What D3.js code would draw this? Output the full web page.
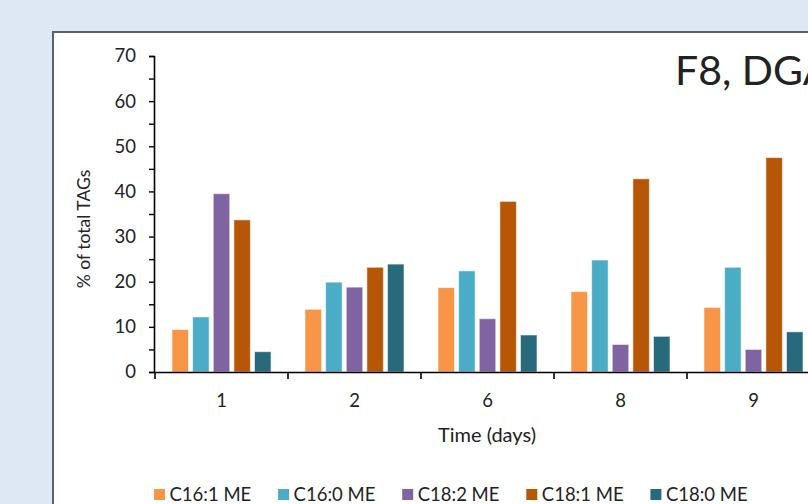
<!DOCTYPE html>
<html>
<head>
<meta charset="utf-8">
<script src="https://cdn.jsdelivr.net/npm/d3@7"></script>
<style>
  html, body { margin: 0; padding: 0; background: #dde8f4; overflow: hidden; }
  svg { display: block; }
  text { font-family: Lato, "Open Sans", sans-serif; fill: #222; }
</style>
</head>
<body>
<svg id="chart" width="808" height="504"></svg>
<script>
const categories = ["1", "2", "6", "8", "9"];
const seriesNames = ["C16:1 ME", "C16:0 ME", "C18:2 ME", "C18:1 ME", "C18:0 ME"];
const c161 = [9.4, 13.9, 18.7, 17.8, 14.3];
const c160 = [12.2, 19.9, 22.4, 24.8, 23.2];
const c182 = [39.5, 18.8, 11.8, 6.1, 5.0];
const c181 = [33.7, 23.2, 37.8, 42.8, 47.5];
const c180 = [4.5, 23.9, 8.2, 7.9, 8.9];
const yTicks = [0, 10, 20, 30, 40, 50, 60, 70];
const colors = ["#f79646", "#4bacc6", "#8064a2", "#b65708", "#276a7c"];
const titleText = "F8, DGA";
const xTitle = "Time (days)";
const yTitle = "% of total TAGs";

const seriesValues = [c161, c160, c182, c181, c180];

const svg = d3.select("#chart");

// Chart frame (extends beyond the visible window)
svg.append("rect")
  .attr("x", 53).attr("y", 32)
  .attr("width", 900).attr("height", 600)
  .attr("fill", "#fff")
  .attr("stroke", "#5b6068").attr("stroke-width", 2);

const y = d3.scaleLinear().domain([0, 70]).range([372, 56]);
const x = d3.scaleBand().domain(categories).range([155, 820]);
const x1 = d3.scaleBand().domain(seriesNames)
  .range([17, x.bandwidth() - 17]).paddingInner(0.2);
const color = d3.scaleOrdinal().domain(seriesNames).range(colors);

// Bars
const groups = svg.append("g").selectAll("g")
  .data(categories)
  .join("g")
  .attr("transform", d => `translate(${x(d)},0)`);

groups.selectAll("rect")
  .data((c, i) => seriesNames.map((s, k) => ({ s, v: seriesValues[k][i] })))
  .join("rect")
  .attr("x", d => x1(d.s))
  .attr("width", x1.bandwidth())
  .attr("y", d => y(d.v))
  .attr("height", d => y(0) - y(d.v))
  .attr("fill", d => color(d.s))
  .attr("stroke", "rgba(255,255,255,0.55)")
  .attr("stroke-width", 1);

// Y axis
const yMinor = d3.range(0, 71, 5);
const yAxisG = svg.append("g")
  .attr("transform", "translate(154,0)")
  .call(d3.axisLeft(y).tickValues(yMinor).tickSize(5).tickPadding(13)
    .tickFormat(d => yTicks.includes(d) ? d : ""));
yAxisG.select(".domain").attr("stroke", "#000").attr("stroke-width", 1.6);
yAxisG.selectAll(".tick line").attr("stroke", "#000").attr("stroke-width", 1.4);
yAxisG.selectAll(".tick text")
  .style("font-family", "Lato, sans-serif").style("font-size", "18.5px").attr("fill", "#222");

// X axis (labels at category centers, ticks at boundaries)
const xAxisG = svg.append("g")
  .attr("transform", "translate(0,372)")
  .call(d3.axisBottom(x).tickSize(0).tickPadding(22));
xAxisG.select(".domain").attr("stroke", "#000").attr("stroke-width", 1.6);
xAxisG.selectAll(".tick text")
  .style("font-family", "Lato, sans-serif").style("font-size", "18.5px").attr("fill", "#222");

const boundaries = categories.map(c => x(c)).concat([x(categories[categories.length - 1]) + x.step()]);
xAxisG.selectAll(".bnd")
  .data(boundaries)
  .join("line")
  .attr("class", "bnd")
  .attr("x1", d => d).attr("x2", d => d)
  .attr("y1", 0).attr("y2", 7)
  .attr("stroke", "#000").attr("stroke-width", 1.6);

// Axis titles
svg.append("text")
  .attr("x", 487).attr("y", 442)
  .attr("text-anchor", "middle")
  .style("font-size", "20px")
  .text(xTitle);

svg.append("text")
  .attr("transform", "translate(90,229) rotate(-90)")
  .attr("text-anchor", "middle")
  .style("font-size", "17.5px")
  .text(yTitle);

// Title (cut at the right edge, as in the reference)
svg.append("text")
  .attr("x", 675).attr("y", 85)
  .style("font-size", "41px")
  .attr("fill", "#000")
  .text(titleText);

// Legend
const legend = svg.append("g").selectAll("g")
  .data(seriesNames)
  .join("g")
  .attr("transform", (d, i) => `translate(${154 + i * 124.1},0)`);
legend.append("rect")
  .attr("x", 0).attr("y", 489)
  .attr("width", 11).attr("height", 11)
  .attr("fill", d => color(d));
legend.append("text")
  .attr("x", 15.5).attr("y", 501)
  .style("font-size", "18.5px")
  .text(d => d);
</script>
</body>
</html>
